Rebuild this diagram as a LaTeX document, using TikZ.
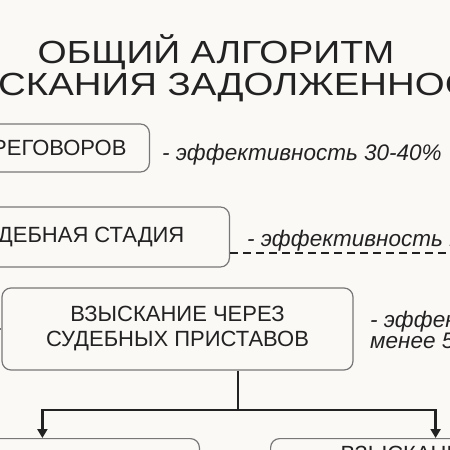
\documentclass[tikz,border=0pt]{standalone}
\usepackage{fontspec}
\setmainfont{Liberation Sans}
\usetikzlibrary{arrows.meta}
\definecolor{algink}{HTML}{222222}
\definecolor{algframe}{HTML}{777777}
\definecolor{algpaper}{HTML}{FBF9F6}

\begin{document}
\begin{tikzpicture}[x=1pt, y=-1pt,
    stage/.style={draw=algframe, line width=1.2pt, rounded corners=9pt,
                  text=algink, font=\fontsize{22}{25}\selectfont, align=center},
    note/.style={text=algink, font=\fontsize{22.5}{20}\selectfont\itshape,
                 anchor=base west, inner sep=0pt},
    heading/.style={text=algink, font=\fontsize{32}{36}\selectfont,
                    anchor=base, inner sep=0pt},
    link/.style={draw=algink, line width=2.6pt},
  ]
  \useasboundingbox (0,0) rectangle (450,450);
  \fill[algpaper] (0,0) rectangle (450,450);
  \clip (0,0) rectangle (450,450);

  % Title
  \node[heading] (title1) at (216,63) {\scalebox{1.17}[1]{ОБЩИЙ АЛГОРИТМ}};
  \node[heading] (title2) at (219.5,95) {\scalebox{1.2}[1]{ВЗЫСКАНИЯ ЗАДОЛЖЕННОСТИ}};

  % Stages, their left parts run off the page
  \node[stage, anchor=east, inner xsep=23pt, minimum height=48pt]
    (talks) at (150,148) {ПЕРЕГОВОРОВ};
  \node[stage, anchor=east, inner xsep=45pt, minimum height=60pt]
    (court) at (230,237) {СУДЕБНАЯ СТАДИЯ};
  \node[stage, minimum width=351pt, minimum height=82pt]
    (bailiff) at (177.5,329) {ВЗЫСКАНИЕ ЧЕРЕЗ\\СУДЕБНЫХ ПРИСТАВОВ};
  \node[stage, anchor=north east, minimum width=314pt, minimum height=60pt]
    (left) at (200,438) {};
  \node[stage, anchor=north west, inner xsep=70pt, inner ysep=8pt,
        text width=190pt, align=left]
    (right) at (270,438) {ВЗЫСКАНИЕ};

  % Efficiency notes
  \node[note] (eff1) at (162,160) {- эффективность 30-40\%};
  \node[note] (eff2) at (247,246) {- эффективность 1};
  \node[note, anchor=north west, align=left]
    (eff3) at (370,311) {- эффективность\\менее 5};

  % Dashed rule under the court note
  \coordinate (dashend) at (452,253);
  \draw[algink, line width=2pt, dash pattern=on 8pt off 5pt]
    (dashend -| court.east) -- (dashend);

  % Stub coming in from the left
  \coordinate (stub) at (-6,329);
  \draw[algframe, line width=1.2pt] (stub) -- (bailiff.west);

  % Split to the two ways
  \coordinate (split) at (238,410);
  \draw[link] (bailiff.south -| split) -- (split);
  \draw[link, -{Triangle[length=9pt, width=10pt]}] (split) -| (left.north);
  \draw[link, -{Triangle[length=9pt, width=10pt]}] (split) -| (right.north);
\end{tikzpicture}
\end{document}
